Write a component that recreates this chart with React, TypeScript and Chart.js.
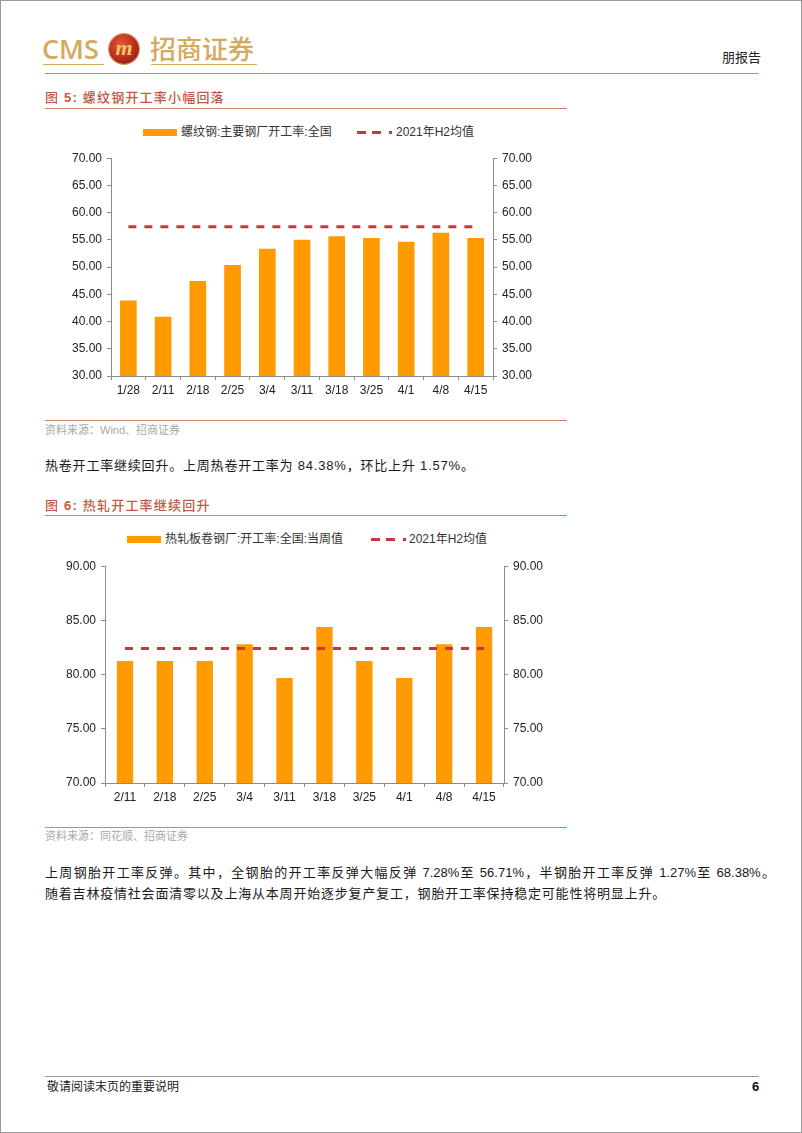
import React, { useEffect, useRef } from "react";
import { Chart, registerables } from "chart.js";

Chart.register(...registerables);

// ---------- Data ----------
const rebarLabels = ["1/28", "2/11", "2/18", "2/25", "3/4", "3/11", "3/18", "3/25", "4/1", "4/8", "4/15"];
const rebarRates = [43.86, 40.87, 47.47, 50.4, 53.39, 55.04, 55.65, 55.34, 54.67, 56.32, 55.34];
const rebarH2Avg = [57.42, 57.42, 57.42, 57.42, 57.42, 57.42, 57.42, 57.42, 57.42, 57.42, 57.42];
const rebarTicks = [30, 35, 40, 45, 50, 55, 60, 65, 70];

const hotLabels = ["2/11", "2/18", "2/25", "3/4", "3/11", "3/18", "3/25", "4/1", "4/8", "4/15"];
const hotRates = [81.25, 81.25, 81.25, 82.81, 79.69, 84.38, 81.25, 79.69, 82.81, 84.38];
const hotH2Avg = [82.4, 82.4, 82.4, 82.4, 82.4, 82.4, 82.4, 82.4, 82.4, 82.4];
const hotTicks = [70, 75, 80, 85, 90];

const rebarBarName = "螺纹钢:主要钢厂开工率:全国";
const hotBarName = "热轧板卷钢厂:开工率:全国:当周值";
const avgName = "2021年H2均值";

// ---------- Styles ----------
const LATIN = "'Liberation Sans', Arial, 'Noto Sans CJK SC', sans-serif";
const CJK = "'Liberation Sans', 'Noto Sans CJK SC', sans-serif";
const ORANGE = "#ff9a00";
const DASH_RED = "#c43a3c";
const AXIS = "#8c8c8c";
const TITLE_RED = "#bf5a44";
const RULE_RED = "#d3826f";
const GOLD = "#d4aa5c";

type ChartProps = {
  labels: string[];
  bars: number[];
  avg: number[];
  ticks: number[];
  barLabel: string;
  avgLabel: string;
  left: number;
  top: number;
  width: number;
  height: number;
  padTop: number;
  leftW: number;
  rightW: number;
  bottomH: number;
  barPct: number;
};

function BarAvgChart(p: ChartProps) {
  const ref = useRef<HTMLCanvasElement>(null);
  useEffect(() => {
    const canvas = ref.current;
    if (!canvas) return;
    const tickFont = { family: "'Liberation Sans', Arial, sans-serif", size: 12 };
    const step = p.ticks[1] - p.ticks[0];
    const yAxis = (pos: string, w: number) => ({
      type: "linear",
      position: pos,
      min: p.ticks[0],
      max: p.ticks[p.ticks.length - 1],
      ticks: {
        stepSize: step,
        font: tickFont,
        color: "#222",
        padding: 5,
        callback: (v: any) => Number(v).toFixed(2),
      },
      grid: { drawOnChartArea: false, drawTicks: true, tickLength: 4, color: AXIS, lineWidth: 1 },
      border: { display: true, color: AXIS, width: 1 },
      afterFit: (s: any) => {
        s.width = w;
      },
    });
    const chart = new Chart(canvas, {
      type: "bar",
      data: {
        labels: p.labels,
        datasets: [
          {
            type: "line",
            label: p.avgLabel,
            data: p.avg,
            borderColor: DASH_RED,
            borderWidth: 3,
            borderDash: [8, 8],
            pointRadius: 0,
            fill: false,
            yAxisID: "y",
            order: 0,
          } as any,
          {
            type: "bar",
            label: p.barLabel,
            data: p.bars,
            backgroundColor: ORANGE,
            barPercentage: p.barPct,
            categoryPercentage: 1,
            yAxisID: "y",
            order: 1,
          },
        ],
      },
      options: {
        animation: false,
        responsive: false,
        maintainAspectRatio: false,
        devicePixelRatio: 1,
        layout: { padding: { top: p.padTop, left: 0, right: 0, bottom: 0 } },
        plugins: {
          legend: { display: false },
          tooltip: { enabled: false },
          title: { display: false },
        },
        scales: {
          x: {
            type: "category",
            offset: true,
            grid: { offset: true, drawOnChartArea: false, drawTicks: true, tickLength: 4, color: AXIS },
            border: { display: true, color: AXIS, width: 1 },
            ticks: { font: tickFont, color: "#222", padding: 3, maxRotation: 0, autoSkip: false },
            afterFit: (s: any) => {
              s.height = p.bottomH;
            },
          },
          y: yAxis("left", p.leftW),
          y1: yAxis("right", p.rightW),
        } as any,
      },
    });
    return () => chart.destroy();
  }, []);
  return (
    <canvas
      ref={ref}
      width={p.width}
      height={p.height}
      style={{ position: "absolute", left: p.left, top: p.top, width: p.width, height: p.height }}
    />
  );
}

function Txt(props: {
  x: number;
  cy: number;
  size: number;
  color?: string;
  family?: string;
  weight?: number | string;
  spacing?: number;
  children: React.ReactNode;
  width?: number;
  align?: "left" | "right" | "justify";
}) {
  const lh = Math.round(props.size * 1.4);
  return (
    <div
      style={{
        position: "absolute",
        left: props.x,
        top: props.cy - lh / 2,
        height: lh,
        lineHeight: lh + "px",
        fontSize: props.size,
        color: props.color || "#1a1a1a",
        fontFamily: props.family || CJK,
        fontWeight: props.weight || 400,
        letterSpacing: props.spacing || 0,
        whiteSpace: "nowrap",
        width: props.width,
        textAlign: props.align === "justify" ? "justify" : props.align || "left",
        textAlignLast: props.align === "justify" ? "justify" : undefined,
      } as any}
    >
      {props.children}
    </div>
  );
}

function Rule(props: { x1: number; x2: number; y: number; color: string; h?: number }) {
  return (
    <div
      style={{
        position: "absolute",
        left: props.x1,
        top: props.y,
        width: props.x2 - props.x1,
        height: props.h || 1,
        background: props.color,
      }}
    />
  );
}

function Legend(props: { swatchX: number; textX: number; dashX: number; avgX: number; cy: number; barName: string }) {
  const { cy } = props;
  return (
    <>
      <div style={{ position: "absolute", left: props.swatchX, top: cy - 3.5, width: 34, height: 7, background: ORANGE }} />
      <Txt x={props.textX} cy={cy} size={12} color="#333">
        {props.barName}
      </Txt>
      <div style={{ position: "absolute", left: props.dashX, top: cy - 1.5, width: 9, height: 3, background: DASH_RED }} />
      <div style={{ position: "absolute", left: props.dashX + 15, top: cy - 1.5, width: 9, height: 3, background: DASH_RED }} />
      <div style={{ position: "absolute", left: props.dashX + 32, top: cy - 1.5, width: 3, height: 3, background: DASH_RED }} />
      <Txt x={props.avgX} cy={cy} size={12} color="#333">
        {avgName}
      </Txt>
    </>
  );
}

export default function App() {
  return (
    <div
      style={{
        position: "absolute",
        left: 0,
        top: 0,
        width: 802,
        height: 1133,
        boxSizing: "border-box",
        border: "1px solid #9a9a9a",
        background: "#fff",
        overflow: "hidden",
        fontFamily: CJK,
      }}
    >
      {/* Header logo */}
      <Txt x={41} cy={48} size={27} color={GOLD} family="'Open Sans', 'Liberation Sans', sans-serif" weight={600}>
        CMS
      </Txt>
      <div
        style={{
          position: "absolute",
          left: 108,
          top: 33,
          width: 30,
          height: 30,
          borderRadius: "50%",
          background: "radial-gradient(circle at 40% 35%, #e4573a 0%, #b82c1c 55%, #7e150c 100%)",
          boxShadow: "0 0 0 1px #c9a05a",
        }}
      />
      <div
        style={{
          position: "absolute",
          left: 111,
          top: 35,
          width: 24,
          height: 24,
          lineHeight: "24px",
          textAlign: "center",
          color: "#f3c763",
          fontFamily: "'Liberation Serif', serif",
          fontStyle: "italic",
          fontWeight: 700,
          fontSize: 22,
        }}
      >
        m
      </div>
      <Txt x={149} cy={47} size={26} color={GOLD} family="'Noto Sans CJK SC', sans-serif" weight={500}>
        招商证券
      </Txt>
      <Rule x1={42} x2={103} y={63} color={GOLD} />
      <Rule x1={150} x2={256} y={63} color={GOLD} />
      <Txt x={721} cy={56} size={13} color="#222" family="'Noto Sans CJK SC', sans-serif">
        朋报告
      </Txt>
      <Rule x1={44} x2={758} y={72} color={RULE_RED} />

      {/* Figure 5 */}
      <Txt x={44} cy={97} size={13} color={TITLE_RED} spacing={1.2} weight={500}>
        图 <b>5:</b> 螺纹钢开工率小幅回落
      </Txt>
      <Rule x1={44} x2={566} y={107} color={RULE_RED} />
      <Legend swatchX={142} textX={180} dashX={356} avgX={395} cy={131} barName={rebarBarName} />
      <BarAvgChart
        labels={rebarLabels}
        bars={rebarRates}
        avg={rebarH2Avg}
        ticks={rebarTicks}
        barLabel={rebarBarName}
        avgLabel={avgName}
        left={44}
        top={145}
        width={522}
        height={255}
        padTop={12}
        leftW={66}
        rightW={74}
        bottomH={25}
        barPct={0.48}
      />
      <Rule x1={44} x2={566} y={419} color={RULE_RED} />
      <Txt x={44} cy={429} size={11} color="#a8a8a8">
        资料来源：Wind、招商证券
      </Txt>

      <Txt x={44} cy={465} size={13} color="#1a1a1a" spacing={0.8}>
        热卷开工率继续回升。上周热卷开工率为 84.38%，环比上升 1.57%。
      </Txt>

      {/* Figure 6 */}
      <Txt x={44} cy={505} size={13} color={TITLE_RED} spacing={1.2} weight={500}>
        图 <b>6:</b> 热轧开工率继续回升
      </Txt>
      <Rule x1={44} x2={566} y={514} color={RULE_RED} />
      <Legend swatchX={126} textX={164} dashX={370} avgX={408} cy={538} barName={hotBarName} />
      <BarAvgChart
        labels={hotLabels}
        bars={hotRates}
        avg={hotH2Avg}
        ticks={hotTicks}
        barLabel={hotBarName}
        avgLabel={avgName}
        left={44}
        top={553}
        width={522}
        height={255}
        padTop={11}
        leftW={60}
        rightW={63}
        bottomH={26}
        barPct={0.41}
      />
      <Rule x1={44} x2={566} y={826} color={RULE_RED} />
      <Txt x={44} cy={835} size={11} color="#a8a8a8">
        资料来源：同花顺、招商证券
      </Txt>

      <Txt x={44} cy={872} size={13} color="#1a1a1a" width={730} align="justify">
        上周钢胎开工率反弹。其中，全钢胎的开工率反弹大幅反弹 7.28%至 56.71%，半钢胎开工率反弹 1.27%至 68.38%。
      </Txt>
      <Txt x={44} cy={893} size={13} color="#1a1a1a" spacing={0.8}>
        随着吉林疫情社会面清零以及上海从本周开始逐步复产复工，钢胎开工率保持稳定可能性将明显上升。
      </Txt>

      {/* Footer */}
      <Rule x1={44} x2={758} y={1075} color="#9a9a9a" />
      <Txt x={46} cy={1086} size={12} color="#222">
        敬请阅读末页的重要说明
      </Txt>
      <Txt x={751} cy={1086} size={13} color="#111" weight={700} family={LATIN}>
        6
      </Txt>
    </div>
  );
}
